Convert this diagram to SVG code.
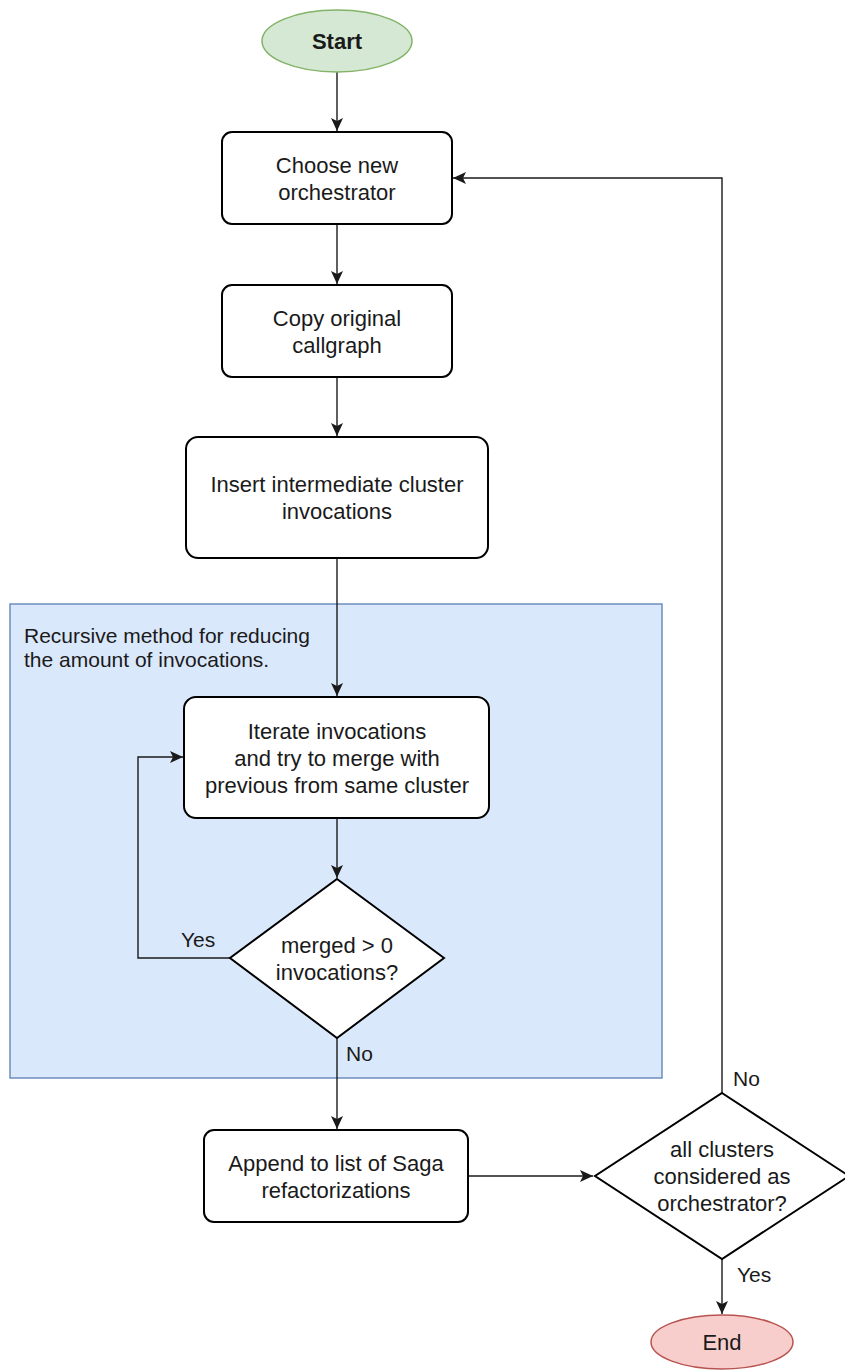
<svg xmlns="http://www.w3.org/2000/svg" width="845" height="1371" viewBox="0 0 845 1371">
<style>
.box{fill:#ffffff;stroke:#000000;stroke-width:2}
.t{font-family:"Liberation Sans",Arial,sans-serif;font-size:22px;fill:#1a1a1a;text-anchor:middle}
.lbl{font-family:"Liberation Sans",Arial,sans-serif;font-size:21px;fill:#1a1a1a}
.edge{fill:none;stroke:#1a1a1a;stroke-width:1.4}
</style>
<defs>
<marker id="arr" markerUnits="userSpaceOnUse" markerWidth="14" markerHeight="12" viewBox="0 0 14 12" refX="13" refY="6" orient="auto">
<path d="M0,0 L13,6 L0,12 L3,6 Z" fill="#1a1a1a"/>
</marker>
</defs>
<rect width="845" height="1371" fill="#ffffff"/>
<g id="container">
<rect x="10" y="604" width="652" height="474" fill="#dae8fc" stroke="#6c8ebf" stroke-width="1.5"/>
<text class="lbl" x="24" y="643" font-size="20.5">Recursive method for reducing</text>
<text class="lbl" x="24" y="667" font-size="20.5">the amount of invocations.</text>
</g>
<g id="connectors">
<path class="edge" d="M337,72 L337,131" marker-end="url(#arr)"/>
<path class="edge" d="M337,224 L337,284" marker-end="url(#arr)"/>
<path class="edge" d="M337,377 L337,436" marker-end="url(#arr)"/>
<path class="edge" d="M337,558 L337,696" marker-end="url(#arr)"/>
<path class="edge" d="M337,818 L337,878" marker-end="url(#arr)"/>
<path class="edge" d="M230,958 L138,958 L138,757 L183,757" marker-end="url(#arr)"/>
<path class="edge" d="M337,1038 L337,1129" marker-end="url(#arr)"/>
<path class="edge" d="M468,1176 L593,1176" marker-end="url(#arr)"/>
<path class="edge" d="M722,1093 L722,178 L453,178" marker-end="url(#arr)"/>
<path class="edge" d="M722,1259 L722,1314" marker-end="url(#arr)"/>
<text class="lbl" x="181" y="947">Yes</text>
<text class="lbl" x="346" y="1061">No</text>
<text class="lbl" x="733" y="1086">No</text>
<text class="lbl" x="737" y="1282">Yes</text>
</g>
<g id="start">
<ellipse cx="337" cy="41" rx="75" ry="31" fill="#d5e8d4" stroke="#82b366" stroke-width="1.5"/>
<text class="t" x="337" y="49" font-weight="bold">Start</text>
</g>
<g id="choose">
<rect class="box" x="222" y="132" width="230" height="92" rx="10"/>
<text class="t" x="337" y="172.5">Choose new</text>
<text class="t" x="337" y="199.5">orchestrator</text>
</g>
<g id="copy">
<rect class="box" x="222" y="285" width="230" height="92" rx="10"/>
<text class="t" x="337" y="325.5">Copy original</text>
<text class="t" x="337" y="352.5">callgraph</text>
</g>
<g id="insert">
<rect class="box" x="186" y="437" width="302" height="121" rx="12"/>
<text class="t" x="337" y="492">Insert intermediate cluster</text>
<text class="t" x="337" y="519">invocations</text>
</g>
<g id="iterate">
<rect class="box" x="184" y="697" width="305" height="121" rx="12"/>
<text class="t" x="337" y="738.5">Iterate invocations</text>
<text class="t" x="337" y="765.5">and try to merge with</text>
<text class="t" x="337" y="792.5">previous from same cluster</text>
</g>
<g id="merged">
<polygon class="box" points="337,879 444,958 337,1038 230,958"/>
<text class="t" x="337" y="952.5">merged &gt; 0</text>
<text class="t" x="337" y="979.5">invocations?</text>
</g>
<g id="append">
<rect class="box" x="204" y="1130" width="264" height="92" rx="10"/>
<text class="t" x="336" y="1170.5">Append to list of Saga</text>
<text class="t" x="336" y="1197.5">refactorizations</text>
</g>
<g id="allclusters">
<polygon class="box" points="722,1093 849,1176 722,1259 595,1176"/>
<text class="t" x="722" y="1157">all clusters</text>
<text class="t" x="722" y="1184">considered as</text>
<text class="t" x="722" y="1211">orchestrator?</text>
</g>
<g id="end">
<ellipse cx="722" cy="1342" rx="71" ry="27" fill="#f8cecc" stroke="#b85450" stroke-width="1.5"/>
<text class="t" x="722" y="1350">End</text>
</g>
</svg>
